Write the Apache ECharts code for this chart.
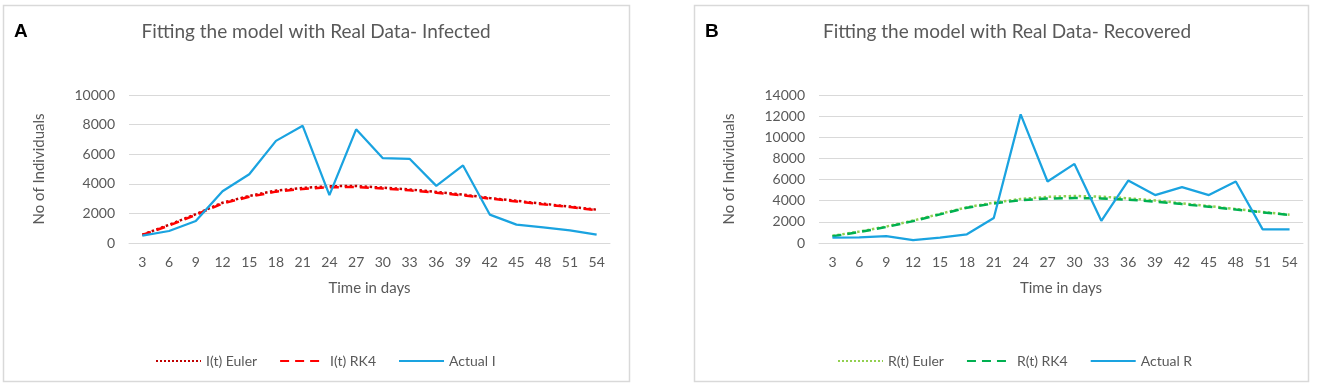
<!DOCTYPE html>
<html>
<head>
<meta charset="utf-8">
<script src="https://cdn.jsdelivr.net/npm/echarts@6/dist/echarts.min.js"></script>
<style>
  html, body { margin: 0; padding: 0; background: #fff; }
  #chart { width: 1324px; height: 386px; }
</style>
</head>
<body>
<div id="chart"></div>
<script>
// days on the x axis (both panels)
var days = ['3', '6', '9', '12', '15', '18', '21', '24', '27', '30', '33', '36', '39', '42', '45', '48', '51', '54'];

// panel A - infected
var infectedEuler = [560, 1230, 1950, 2720, 3180, 3540, 3720, 3840, 3850, 3740, 3620, 3450, 3270, 3040, 2850, 2650, 2460, 2250];
var infectedRK4   = [540, 1180, 1900, 2670, 3120, 3470, 3650, 3770, 3780, 3680, 3560, 3400, 3220, 3000, 2810, 2610, 2430, 2220];
var actualI       = [500, 810, 1490, 3500, 4650, 6900, 7920, 3230, 7680, 5730, 5690, 3860, 5240, 1920, 1240, 1060, 860, 560];

// panel B - recovered
var recoveredEuler = [680, 1080, 1560, 2120, 2760, 3380, 3820, 4170, 4360, 4450, 4380, 4230, 4020, 3760, 3500, 3210, 2940, 2680];
var recoveredRK4   = [640, 1030, 1510, 2070, 2710, 3330, 3740, 4050, 4200, 4250, 4220, 4100, 3920, 3680, 3430, 3160, 2900, 2650];
var actualR        = [500, 530, 660, 280, 500, 820, 2360, 12170, 5820, 7480, 2100, 5910, 4530, 5280, 4530, 5820, 1290, 1290];

var FONT = 'Lato';
var GREY = '#595959';
var GRID_LINE = '#D9D9D9';
var BLUE = '#1AA3E0';

function xAxisFor(gridIndex) {
  return {
    type: 'category',
    gridIndex: gridIndex,
    data: days,
    boundaryGap: true,
    name: 'Time in days',
    nameLocation: 'middle',
    nameGap: 38,
    nameTextStyle: { color: GREY, fontSize: 15, fontFamily: FONT },
    axisLine: { lineStyle: { color: GRID_LINE, width: 1 } },
    axisTick: { show: false },
    axisLabel: { color: GREY, fontSize: 14, fontFamily: FONT, margin: 12, interval: 0 }
  };
}

function yAxisFor(gridIndex, max) {
  return {
    type: 'value',
    gridIndex: gridIndex,
    min: 0,
    max: max,
    interval: 2000,
    name: 'No of Individuals',
    nameLocation: 'middle',
    nameRotate: 90,
    nameGap: 82,
    nameTextStyle: { color: GREY, fontSize: 15, fontFamily: FONT },
    axisLine: { show: false },
    axisTick: { show: false },
    axisLabel: {
      color: GREY, fontSize: 14, fontFamily: FONT, margin: 14,
      formatter: function(v) { return String(v); }
    },
    splitLine: { lineStyle: { color: GRID_LINE, width: 1 } }
  };
}

function lineSeries(name, data, idx, color, type, width, z) {
  return {
    name: name,
    type: 'line',
    xAxisIndex: idx,
    yAxisIndex: idx,
    data: data,
    symbol: 'none',
    smooth: false,
    z: z,
    lineStyle: { color: color, type: type, width: width },
    itemStyle: { color: color }
  };
}

var legendBase = {
  top: 349,
  itemWidth: 45, itemHeight: 14, itemGap: 22,
  itemStyle: { opacity: 0 },
  textStyle: { color: GREY, fontSize: 14, fontFamily: FONT }
};

var myChart = echarts.init(document.getElementById('chart'), null, { renderer: 'canvas' });

var option = {
  animation: false,
  backgroundColor: '#fff',
  grid: [
    { left: 129, top: 95, width: 481, height: 148 },
    { left: 819, top: 95, width: 484, height: 148 }
  ],
  xAxis: [xAxisFor(0), xAxisFor(1)],
  yAxis: [yAxisFor(0, 10000), yAxisFor(1, 14000)],
  legend: [
    Object.assign({}, legendBase, { left: 150, data: ['I(t) Euler', 'I(t) RK4', 'Actual I'] }),
    Object.assign({}, legendBase, { left: 832, data: ['R(t) Euler', 'R(t) RK4', 'Actual R'] })
  ],
  graphic: [
    { type: 'rect', shape: { x: 3.5, y: 5.5, width: 626, height: 376 }, style: { fill: 'none', stroke: GRID_LINE, lineWidth: 1.5 }, silent: true },
    { type: 'rect', shape: { x: 694.5, y: 5.5, width: 614, height: 376 }, style: { fill: 'none', stroke: GRID_LINE, lineWidth: 1.5 }, silent: true },
    { type: 'text', x: 14, y: 32, style: { text: 'A', fill: '#000', font: 'bold 19px "Liberation Sans"', textVerticalAlign: 'middle' } },
    { type: 'text', x: 705, y: 32, style: { text: 'B', fill: '#000', font: 'bold 19px "Liberation Sans"', textVerticalAlign: 'middle' } },
    { type: 'text', x: 316, y: 32, style: { text: 'Fitting the model with Real Data- Infected', fill: GREY, font: '19px ' + FONT, textAlign: 'center', textVerticalAlign: 'middle' } },
    { type: 'text', x: 1007, y: 32, style: { text: 'Fitting the model with Real Data- Recovered', fill: GREY, font: '19px ' + FONT, textAlign: 'center', textVerticalAlign: 'middle' } }
  ],
  series: [
    lineSeries('I(t) Euler', infectedEuler, 0, '#C00000', 'dotted', 2.5, 2),
    lineSeries('I(t) RK4', infectedRK4, 0, '#FF0000', [9, 6], 2.5, 3),
    lineSeries('Actual I', actualI, 0, BLUE, 'solid', 2.25, 4),
    lineSeries('R(t) Euler', recoveredEuler, 1, '#92D050', 'dotted', 2.5, 2),
    lineSeries('R(t) RK4', recoveredRK4, 1, '#00B050', [9, 6], 2.5, 3),
    lineSeries('Actual R', actualR, 1, BLUE, 'solid', 2.25, 4)
  ]
};

myChart.setOption(option);
</script>
</body>
</html>
